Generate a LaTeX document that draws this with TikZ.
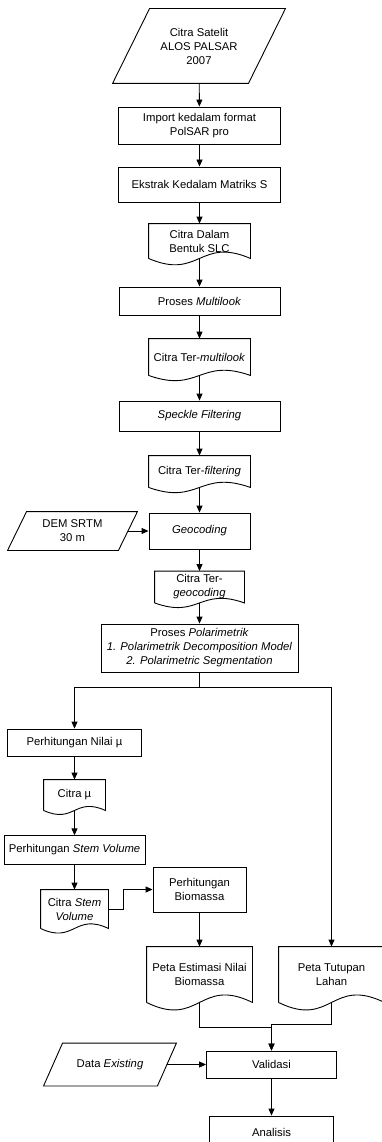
\documentclass[tikz,border=0pt]{standalone}
\usepackage{fontspec}
\setmainfont{Liberation Sans}
\usetikzlibrary{calc,arrows.meta}
\newlength{\ioslant}
\setlength{\ioslant}{9.5pt}
\newcommand\drawdata[2]
{
    \draw ([xshift=-#2]#1.south west) -- ([xshift=#2]#1.north west)
       -- ([xshift=#2]#1.north east) -- ([xshift=-#2]#1.south east) -- cycle;
}
\newcommand\drawdoc[2]
{
    \draw (#1.south west) -- (#1.north west) -- (#1.north east) -- (#1.south east)
       .. controls ($(#1.south)+(0,-#2)$) and ($(#1.south)+(0,#2)$) .. (#1.south west);
}

\begin{document}
\begin{tikzpicture}[x=1pt,y=-1pt,line width=0.9pt,
    >={Triangle[length=7pt,width=6pt]},
    font=\fontsize{11.3}{14}\selectfont]
  \tikzstyle{procbox}=[draw, rectangle, align=center, inner sep=0pt]
  \tikzstyle{docnode}=[rectangle, align=center, inner sep=0pt]
  \tikzstyle{datanode}=[rectangle, align=center, inner sep=0pt]
  \useasboundingbox (0,0) rectangle (382,1142);

  % main column
  \node (sat) at (199,46) [datanode, minimum width=135, minimum height=74]
      {Citra Satelit\\ALOS PALSAR\\2007};
  \drawdata{sat}{18.5pt}
  \node (imp) at (199.5,125.5) [procbox, minimum width=162, minimum height=37]
      {Import kedalam format\\PolSAR pro};
  \node (eks) at (199.5,184.5) [procbox, minimum width=162, minimum height=35]
      {Ekstrak Kedalam Matriks S};
  \node (slc) at (199.5,241) [docnode, minimum width=101, minimum height=34]
      {Citra Dalam\\Bentuk SLC};
  \drawdoc{slc}{22}
  \node (mul) at (199.5,301) [procbox, minimum width=161, minimum height=28]
      {Proses \textit{Multilook}};
  \node (ml) at (199.5,357) [docnode, minimum width=101, minimum height=36]
      {Citra Ter-\textit{multilook}};
  \drawdoc{ml}{18}
  \node (spk) at (199.5,416) [procbox, minimum width=161, minimum height=30]
      {\textit{Speckle Filtering}};
  \node (flt) at (199.5,471.5) [docnode, minimum width=101, minimum height=31]
      {Citra Ter-\textit{filtering}};
  \drawdoc{flt}{18}
  \node (geo) at (199.5,531) [procbox, minimum width=101, minimum height=36]
      {\textit{Geocoding}};
  \node (dem) at (72.5,531) [datanode, minimum width=110, minimum height=38]
      {DEM SRTM\\30 m};
  \drawdata{dem}{\ioslant}
  \node (gcd) at (199.5,587) [docnode, minimum width=89, minimum height=31]
      {Citra Ter-\\\textit{geocoding}};
  \drawdoc{gcd}{16}
  \node (pol) at (199.5,648) [procbox, minimum width=197, minimum height=48]
      {Proses \textit{Polarimetrik}\\\textit{1. Polarimetrik Decomposition Model}\\\textit{2. Polarimetric Segmentation}};

  % left column
  \node (nil) at (74.5,742.5) [procbox, minimum width=134, minimum height=27]
      {Perhitungan Nilai µ};
  \node (cmu) at (74.5,795) [docnode, minimum width=61, minimum height=30]
      {Citra µ};
  \drawdoc{cmu}{14}
  \node (stm) at (74.5,850) [procbox, minimum width=141, minimum height=28.5]
      {Perhitungan \textit{Stem Volume}};
  \node (csv) at (74.5,909) [docnode, minimum width=67, minimum height=38]
      {Citra \textit{Stem}\\\textit{Volume}};
  \drawdoc{csv}{16}
  \node (bio) at (199.5,889.5) [procbox, minimum width=93, minimum height=45]
      {Perhitungan\\Biomassa};
  \node (est) at (199.5,974.5) [docnode, minimum width=105, minimum height=55]
      {Peta Estimasi Nilai\\Biomassa};
  \drawdoc{est}{26}
  \node (tut) at (331.5,974.5) [docnode, minimum width=105, minimum height=55]
      {Peta Tutupan\\Lahan};
  \drawdoc{tut}{26}

  % bottom
  \node (val) at (271.5,1064.5) [procbox, minimum width=130, minimum height=27]
      {Validasi};
  \node (dat) at (110,1064.5) [datanode, minimum width=113, minimum height=42]
      {Data \textit{Existing}};
  \drawdata{dat}{\ioslant}
  \node (ana) at (271.5,1132) [procbox, minimum width=124, minimum height=32]
      {Analisis};

  % connectors
  \draw[->] (sat) -- (imp);
  \draw[->] (imp) -- (eks);
  \draw[->] (eks) -- (slc);
  \draw[->] (slc) -- (mul);
  \draw[->] (mul) -- (ml);
  \draw[->] (ml) -- (spk);
  \draw[->] (spk) -- (flt);
  \draw[->] (flt) -- (geo);
  \draw[->] (dem) -- (geo);
  \draw[->] (geo) -- (gcd);
  \draw[->] (gcd) -- (pol);
  \coordinate (split) at ($(pol.south)+(0,15)$);
  \draw[->] (pol.south) -- (split) -| (nil.north);
  \draw[->] (split) -| (tut.north);
  \draw[->] (nil) -- (cmu);
  \draw[->] (cmu) -- (stm);
  \draw[->] (stm) -- (csv);
  \draw[->] (csv.east) -- ++(15,0) |- (bio.west);
  \draw[->] (bio) -- (est);
  \draw[->] (est.south) -- ++(0,25) -| (val.north);
  \draw[->] (tut.south) -- ++(0,22) -| (val.north);
  \draw[->] (dat) -- (val);
  \draw[->] (val) -- (ana);
\end{tikzpicture}
\end{document}
